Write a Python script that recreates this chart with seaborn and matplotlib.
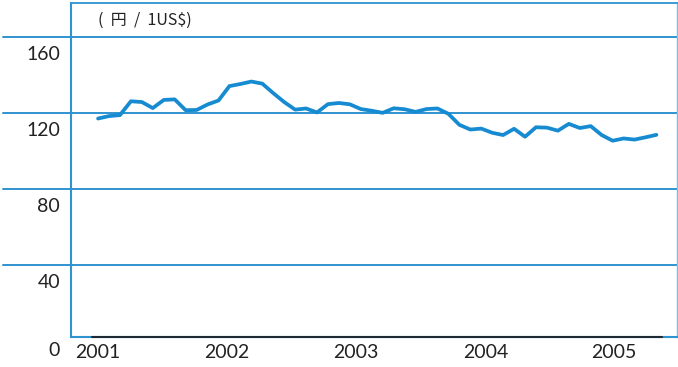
import matplotlib
matplotlib.use("Agg")
import matplotlib.pyplot as plt
import matplotlib.transforms as mtransforms
import numpy as np
import pandas as pd
import seaborn as sns

# Monthly yen per US dollar, from January 2001 onward
months = list(range(52))
rate = [
    117.1, 118.4, 118.9, 126.2, 125.8, 122.6, 126.9, 127.2, 121.5, 121.6, 124.5, 126.6,
    134.2, 135.3, 136.6, 135.5, 130.5, 125.8, 121.8, 122.4, 120.3, 124.7, 125.3, 124.6,
    122.1, 121.2, 120.1, 122.5, 122.0, 120.6, 122.1, 122.4, 119.6, 113.8, 111.3, 111.8,
    109.6, 108.4, 111.7, 107.5, 112.5, 112.3, 110.7, 114.3, 112.1, 113.1, 108.4, 105.4,
    106.6, 106.0, 107.2, 108.5,
]
year_labels = ["2001", "2002", "2003", "2004", "2005"]
year_ticks = [0, 11.8, 23.5, 35.4, 47.1]
y_levels = [40, 80, 120, 160]
unit_label = "(  円  /  1US$)"

df = pd.DataFrame({"month": months, "rate": rate})

sns.set_theme(style="white")
plt.rcParams["font.family"] = ["Lato", "DejaVu Sans"]

W, H = 678, 367
fig = plt.figure(figsize=(W / 100, H / 100), dpi=100)
ax = fig.add_axes([71 / W, 1 - 336.7 / H, (677 - 71) / W, (336.7 - 3) / H])

LINE = "#168bd2"
GRID = "#2f93d0"

sns.lineplot(data=df, x="month", y="rate", ax=ax, color=LINE, linewidth=2.7,
             solid_joinstyle="round", zorder=5)

ax.set_xlim(-2.47, 52.88)
ax.set_ylim(2.1, 178.0)

# horizontal rules that run out into the label column
for v in y_levels:
    ax.axhline(v, xmin=-0.112, xmax=1, color=GRID, lw=1.4, clip_on=False, zorder=2)

# frame
for side in ["left", "top", "right", "bottom"]:
    ax.spines[side].set_visible(True)
ax.spines["left"].set_color(GRID)
ax.spines["left"].set_linewidth(1.5)
ax.spines["top"].set_color("#3a9bd3")
ax.spines["top"].set_linewidth(1.4)
ax.spines["right"].set_color("#7fbde3")
ax.spines["right"].set_linewidth(1.0)
ax.spines["bottom"].set_color(GRID)
ax.spines["bottom"].set_linewidth(1.5)
# darker base rule under the plotted period
ax.axhline(2.1, xmin=(92 - 71) / 606, xmax=(662 - 71) / 606,
           color="#1d2a33", lw=1.5, clip_on=False, zorder=3)

# y labels sit just below their rules
ax.set_yticks([])
below = mtransforms.offset_copy(ax.transData, fig=fig, x=0, y=-17.5, units="dots")
for v in y_levels:
    tr = mtransforms.blended_transform_factory(ax.transAxes, below)
    ax.text(-0.018, v, str(v), transform=tr, ha="right", va="center",
            fontsize=14, color="#222222")
zero_tr = mtransforms.offset_copy(ax.transAxes, fig=fig, x=0, y=-13.5, units="dots")
ax.text(-0.018, 0, "0", transform=zero_tr, ha="right", va="center",
        fontsize=14, color="#222222")

ax.set_xticks(year_ticks)
ax.set_xticklabels(year_labels, fontsize=14, color="#222222")
ax.tick_params(axis="x", length=0, pad=5)
ax.set_xlabel("")
ax.set_ylabel("")

ax.text(0.045, 0.947, unit_label, transform=ax.transAxes, ha="left", va="center",
        fontsize=11.5, color="#222222",
        family=["Noto Sans CJK JP", "DejaVu Sans"])

fig.savefig("out.png", dpi=100)
